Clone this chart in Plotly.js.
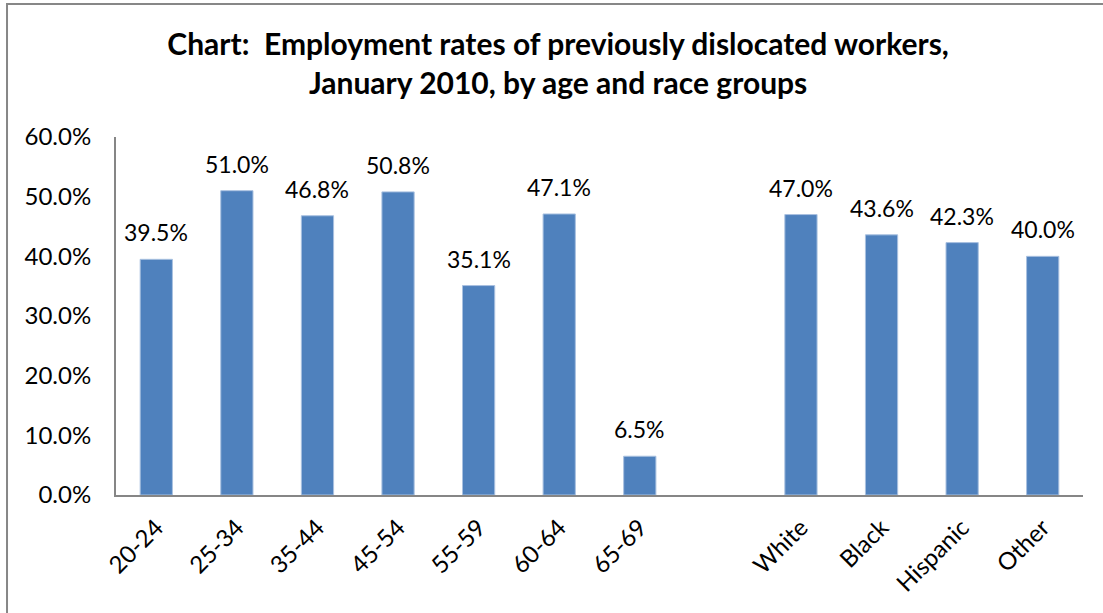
<!DOCTYPE html>
<html>
<head>
<meta charset="utf-8">
<script src="https://cdn.plot.ly/plotly-3.0.1.min.js"></script>
<style>
html,body{margin:0;padding:0;background:#fff;}
#chart{width:1103px;height:613px;}
</style>
</head>
<body>
<div id="chart"></div>
<script>
const categories = ["20-24","25-34","35-44","45-54","55-59","60-64","65-69"," ","White","Black","Hispanic","Other"];
const values = [39.5, 51.0, 46.8, 50.8, 35.1, 47.1, 6.5, null, 47.0, 43.6, 42.3, 40.0];
const yTicks = [0, 10, 20, 30, 40, 50, 60];
const titleText = "Chart:  Employment rates of previously dislocated workers,<br>January 2010, by age and race groups";

const FONT = "Lato, 'Open Sans', sans-serif";

const trace = {
  type: "bar",
  x: categories,
  y: values,
  marker: {color: "#4F81BD", line: {color: "#A9C1E0", width: 1}},
  hoverinfo: "skip"
};

const annotations = categories.map((c, i) => values[i] === null ? null : ({
  x: c, y: values[i], xref: "x", yref: "y",
  text: values[i].toFixed(1) + "%",
  showarrow: false, yanchor: "bottom", yshift: 11,
  font: {family: FONT, size: 23, color: "#000"}
})).filter(a => a);

const layout = {
  width: 1103, height: 613, autosize: false,
  paper_bgcolor: "#fff", plot_bgcolor: "#fff",
  margin: {l: 116, r: 20, t: 137, b: 118},
  showlegend: false,
  bargap: 0.6,
  title: {
    text: "<b>" + titleText + "</b>",
    x: 0.506, xanchor: "center", y: 0.911, yanchor: "middle",
    font: {family: FONT, size: 30, color: "#000"}
  },
  xaxis: {
    type: "category",
    tickangle: -45,
    tickfont: {family: FONT, size: 24, color: "#000"},
    showline: true, linecolor: "#868686", linewidth: 2,
    ticks: "", showgrid: false, zeroline: false, fixedrange: true,
    ticklabelstandoff: 7
  },
  yaxis: {
    range: [0, 60],
    tickvals: yTicks,
    ticktext: yTicks.map(v => v.toFixed(1) + "%"),
    tickfont: {family: FONT, size: 24, color: "#000"},
    showline: true, linecolor: "#868686", linewidth: 2,
    ticks: "", ticklen: 0, showgrid: false, zeroline: false,
    ticklabelstandoff: 18
  },
  annotations: annotations,
  shapes: [{
    type: "rect", xref: "paper", yref: "paper",
    x0: -0.1127, x1: 1.03, y0: -0.36, y1: 1.3715,
    line: {color: "#878787", width: 2}, layer: "below"
  }]
};

Plotly.newPlot("chart", [trace], layout, {displayModeBar: false, staticPlot: true});
</script>
</body>
</html>
